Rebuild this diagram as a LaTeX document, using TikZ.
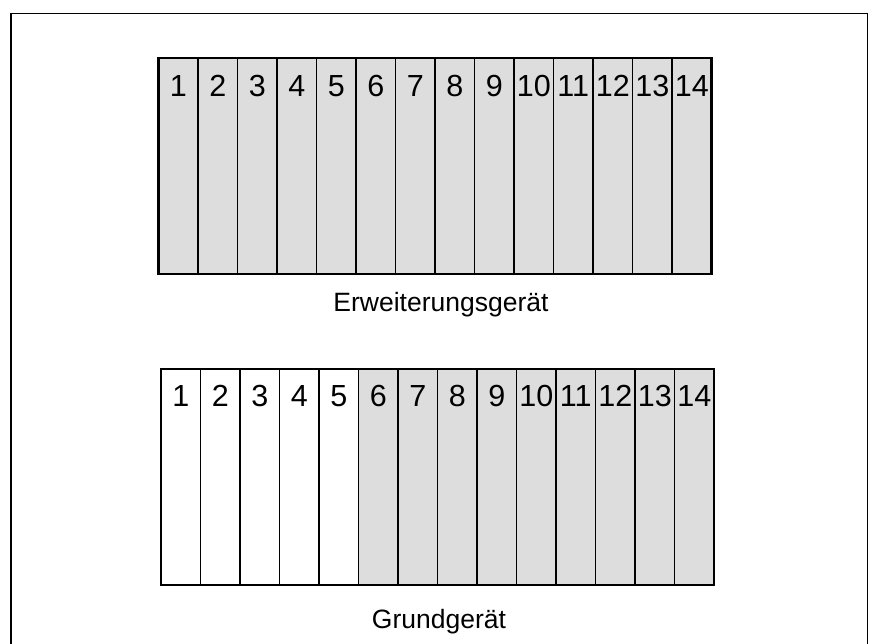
\documentclass[tikz,border=0pt]{standalone}
\usepackage{fontspec}
\setmainfont{Liberation Sans}
\definecolor{slotgray}{HTML}{DDDDDD}
\begin{document}
\begin{tikzpicture}[x=1pt,y=-1pt,
  slot/.style={draw, line width=1.5pt, minimum width=39.5pt, minimum height=216pt, inner sep=0pt, outer sep=0pt, anchor=north west},
  grayslot/.style={slot, fill=slotgray},
  whiteslot/.style={slot, fill=white},
  num/.style={font=\fontsize{30.5}{31}\selectfont, anchor=base, inner sep=0pt},
  caption/.style={font=\fontsize{26.5}{28}\selectfont, anchor=base, inner sep=0pt},
  rackframe/.style={draw, line width=2.8pt},
  outerframe/.style={draw, line width=1.8pt}]
\useasboundingbox (0,0) rectangle (869,644);
% outer frame (bottom edge lies below the picture)
\coordinate (fbl) at (11,660);
\coordinate (ftl) at (11,13.5);
\coordinate (ftr) at (867.5,13.5);
\coordinate (fbr) at (867.5,660);
\draw[outerframe] (fbl) -- (ftl) -- (ftr) -- (fbr);
% upper rack: Erweiterungsgeraet
\foreach \i in {1,...,14} {
  \node[grayslot] (t\i) at ({158.5+(\i-1)*39.5},58) {};
  \node[num] (tn\i) at ({158.5+(\i-0.5)*39.5},96.5) {\i};
}
\draw[rackframe] (t1.north west) rectangle (t14.south east);
\node[caption] (erw) at (441,311.5) {Erweiterungsgerät};
% lower rack: Grundgeraet
\foreach \i in {1,...,5} {
  \node[whiteslot] (b\i) at ({161+(\i-1)*39.5},369) {};
}
\foreach \i in {6,...,14} {
  \node[grayslot] (b\i) at ({161+(\i-1)*39.5},369) {};
}
\foreach \i in {1,...,14} {
  \node[num] (bn\i) at ({161+(\i-0.5)*39.5},406) {\i};
}
\draw[rackframe] (b1.north west) rectangle (b14.south east);
\node[caption] (grund) at (439,628) {Grundgerät};
\end{tikzpicture}
\end{document}
